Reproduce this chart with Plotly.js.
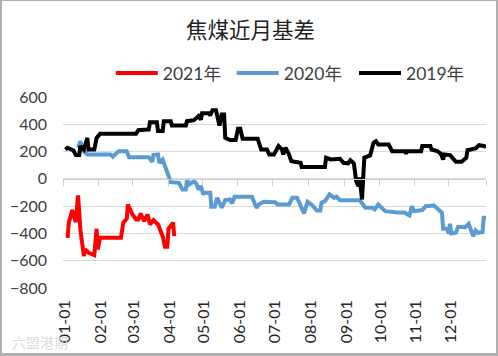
<!DOCTYPE html>
<html><head><meta charset="utf-8">
<script src="https://cdn.plot.ly/plotly-3.0.1.min.js"></script>
<style>
html,body{margin:0;padding:0;background:#fff;overflow:hidden}
#wrap{position:relative;width:498px;height:356px}
#chart{position:absolute;left:0;top:0;width:498px;height:356px}
#frame{position:absolute;left:0;top:0;width:498px;height:356px;box-sizing:border-box;border-style:solid;border-color:#b0b0b0;border-width:1px 2px 3px 2px;pointer-events:none}
</style></head><body>
<div id="wrap"><div id="chart"></div><div id="frame"></div></div>
<script>
const titleText = '焦煤近月基差';
const tickDays = [0,31,60,91,120,151,181,212,243,273,303,333];
const tickLabels = ['01-01','02-01','03-01','04-01','05-01','06-01','07-01','08-01','09-01','10-01','11-01','12-01'];
const zeroTickDays = [0,31,60,91,120,151,181,212,243,273,303,333,365];

const days2021 = [4,5,8,11,13,15,18,19,22,27,29,30,32,50,52,55,56,60,63,65,67,70,73,75,78,82,86,88,90,91,95,96];
const vals2021 = [-432,-322,-229,-317,-122,-371,-566,-517,-542,-559,-366,-517,-432,-432,-322,-292,-188,-261,-298,-298,-254,-310,-261,-334,-303,-334,-420,-498,-498,-366,-322,-420];

const days2020 = [13,15,17,21,41,43,48,55,57,74,77,78,82,83,86,90,93,100,103,106,107,109,113,115,117,119,121,122,127,128,131,133,137,140,144,146,148,163,167,169,173,183,185,195,198,202,208,211,215,219,222,223,226,230,234,236,239,256,261,267,269,272,278,287,295,299,301,303,310,313,320,327,328,331,333,334,335,339,341,347,350,354,356,358,362,363,365];
const vals2020 = [228,276,208,179,179,162,203,203,159,159,125,174,179,118,142,45,-24,-29,-78,-78,-4,-41,-17,-34,-78,-53,-114,-102,-102,-204,-204,-139,-212,-156,-151,-180,-131,-131,-212,-188,-168,-171,-188,-188,-139,-139,-254,-168,-193,-232,-232,-175,-163,-114,-139,-131,-156,-156,-212,-212,-224,-188,-237,-244,-248,-268,-200,-237,-229,-200,-195,-248,-366,-366,-400,-329,-400,-395,-351,-354,-329,-420,-378,-395,-390,-285,-285];

const days2019 = [2,4,9,11,14,15,18,21,22,27,29,32,63,65,73,74,75,81,82,86,87,93,94,106,107,113,117,119,120,126,127,129,132,135,137,139,140,144,149,151,153,155,168,171,176,178,182,186,189,190,192,195,197,205,206,226,227,231,239,242,246,248,251,253,255,256,258,260,265,268,270,272,281,284,295,296,297,309,310,317,318,323,326,328,329,334,339,344,348,349,356,359,363,365];
const vals2019 = [215,228,208,174,174,240,215,300,215,215,300,330,330,357,362,362,415,415,350,350,423,423,391,391,423,430,460,435,480,480,465,503,503,391,472,472,301,284,284,367,367,294,294,215,215,179,179,240,215,179,228,179,130,118,86,86,155,142,147,118,113,137,113,-17,-53,10,-151,155,172,265,276,252,252,203,203,185,203,203,240,240,215,203,184,142,179,174,125,125,155,210,223,247,241,235];

const fontLatin = 'Lato, "Noto Sans CJK SC", sans-serif';
function series(name, x, y, color, legendId){
  return {type:'scatter', mode:'lines', name:name, x:x, y:y, legend:legendId, line:{color:color, width:4, shape:'linear'}};
}
function legendAt(x){
  return {x:x, xanchor:'left', y:1.125, yanchor:'middle', itemwidth:42, font:{family:fontLatin, size:17.5, color:'#404040'}, bgcolor:'rgba(0,0,0,0)'};
}
const traces = [
  series('2021年', days2021, vals2021, '#ff0000', 'legend'),
  series('2020年', days2020, vals2020, '#5b9bd5', 'legend2'),
  series('2019年', days2019, vals2019, '#000000', 'legend3'),
  {type:'scatter', mode:'lines', x:[0,365], y:[0,0], xaxis:'x2', yaxis:'y', showlegend:false, hoverinfo:'skip', line:{color:'rgba(0,0,0,0)', width:0}}
];
const layout = {
  width:498, height:356,
  margin:{l:62.5, r:12.3, t:97.3, b:68},
  paper_bgcolor:'#fff', plot_bgcolor:'#fff',
  showlegend:true,
  title:{text:titleText, font:{family:'"Noto Sans CJK SC", sans-serif', size:21.5, color:'#222'}, x:0.503, xanchor:'center', xref:'container', y:0.913, yanchor:'middle', yref:'container'},
  legend:legendAt(0.113),
  legend2:legendAt(0.399),
  legend3:legendAt(0.688),
  xaxis:{type:'linear', range:[0,365], anchor:'free', position:800/1400, side:'bottom', tickmode:'array', tickvals:zeroTickDays, ticks:'outside', ticklen:6, tickcolor:'#d0d0d0', tickwidth:1, showticklabels:false, showgrid:false, zeroline:false, showline:true, linecolor:'#d0d0d0', linewidth:1, fixedrange:true},
  xaxis2:{type:'linear', range:[-1.5,363.5], overlaying:'x', anchor:'y', side:'bottom', tickmode:'array', tickvals:tickDays, ticktext:tickLabels, tickangle:-90, ticks:'', showgrid:false, zeroline:false, showline:false, ticklabelstandoff:8, tickfont:{family:fontLatin, size:16, color:'#262626'}, fixedrange:true},
  yaxis:{range:[-800,600], tickmode:'array', tickvals:[-800,-600,-400,-200,0,200,400,600], ticks:'', showline:false, zeroline:false, showgrid:true, gridcolor:'#d9d9d9', gridwidth:1, ticklabelstandoff:15, tickformat:'d', tickfont:{family:fontLatin, size:16, color:'#404040'}, fixedrange:true},
  annotations:[{text:'六盟港期', xref:'paper', yref:'paper', x:-0.125, y:-0.285, xanchor:'left', yanchor:'middle', showarrow:false, font:{family:'"Noto Sans CJK SC", sans-serif', size:14, color:'#dcdcdc'}}]
};
Plotly.newPlot('chart', traces, layout, {displayModeBar:false, staticPlot:true});
</script></body></html>
